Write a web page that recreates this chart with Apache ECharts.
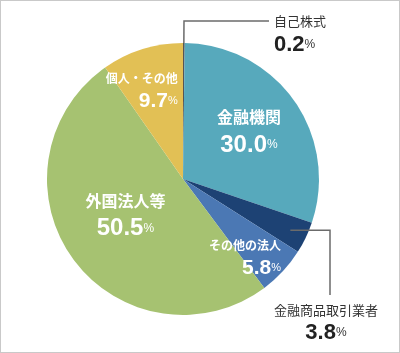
<!DOCTYPE html>
<html>
<head>
<meta charset="utf-8">
<script src="https://cdn.jsdelivr.net/npm/echarts@6/dist/echarts.min.js"></script>
<style>
html, body { margin: 0; padding: 0; background: #fff; }
#main { width: 400px; height: 353px; box-sizing: border-box; border: 1px solid #c9c9c9; }
</style>
</head>
<body>
<div id="main"></div>
<script>
// 株主構成 (%), clockwise from 12 o'clock
const names = ['自己株式', '金融機関', '金融商品取引業者', 'その他の法人', '外国法人等', '個人・その他'];
const shares = [0.2, 30.0, 3.8, 5.8, 50.5, 9.7];

const colors = ['#555555', '#57a9bc', '#1d4274', '#4b78b4', '#a6c271', '#e2c055'];
// label look per slice: dark = outside, big/small = white inside
const labelKind = ['dark', 'big', 'dark', 'small', 'big', 'small'];
const labelOffset = [null, [8, -4], null, [10, 32], [0, -3], [-20, -19]];

const CX = 182, CY = 178, R = 136;
const FONT = "'Liberation Sans','Noto Sans CJK JP',sans-serif";

const chart = echarts.init(document.getElementById('main'), null, { renderer: 'canvas' });

function fmt(kind, name, v) {
    const val = v.toFixed(1);
    if (kind === 'big') return '{nB|' + name + '}\n{vB|' + val + '}{pB|%}';
    if (kind === 'small') return '{nS|' + name + '}\n{vS|' + val + '}{pS|%}';
    return '{nD|' + name + '}\n{vD|' + val + '}{pD|%}';
}

const seriesData = names.map(function (n, i) {
    const kind = labelKind[i];
    const item = {
        name: n,
        value: shares[i],
        itemStyle: { color: colors[i] },
        label: {
            position: kind === 'dark' ? 'outside' : 'inside',
            formatter: fmt(kind, n, shares[i])
        }
    };
    if (labelOffset[i]) item.label.offset = labelOffset[i];
    if (i === 0) item.label.padding = [31, 0, 0, 0];
    if (i === 2) item.labelLine = { show: false };
    return item;
});

// mid angle of 金融商品取引業者 for its leader line
const total = shares.reduce(function (a, b) { return a + b; }, 0);
const before = shares[0] + shares[1];
const midDeg = (before + shares[2] / 2) / total * 360;
const dx = Math.sin(midDeg * Math.PI / 180), dy = -Math.cos(midDeg * Math.PI / 180);
const p0 = [CX + 0.875 * R * dx, CY + 0.875 * R * dy];
const lineX = CX + 147;
const leader = [p0, [lineX, p0[1]], [lineX, CY + 116]];

chart.setOption({
    animation: false,
    graphic: [{
        type: 'polyline',
        z: 100,
        shape: { points: leader },
        style: { stroke: '#6b6b6b', lineWidth: 1.5, fill: null }
    }],
    series: [{
        type: 'pie',
        center: [CX, CY],
        radius: [0, R],
        startAngle: 90,
        clockwise: true,
        avoidLabelOverlap: false,
        itemStyle: { borderWidth: 0 },
        emphasis: { disabled: true },
        labelLine: {
            show: true,
            length: 22,
            length2: 85,
            smooth: false,
            lineStyle: { color: '#6b6b6b', width: 1.5 }
        },
        label: {
            show: true,
            fontFamily: FONT,
            rich: {
                nB: { fontFamily: FONT, fontSize: 16, fontWeight: 'bold', color: '#fff', lineHeight: 22 },
                vB: { fontFamily: FONT, fontSize: 24, fontWeight: 'bold', color: '#fff', lineHeight: 30 },
                pB: { fontFamily: FONT, fontSize: 12, color: '#fff', lineHeight: 30 },
                nS: { fontFamily: FONT, fontSize: 12, fontWeight: 'bold', color: '#fff', lineHeight: 18, align: 'right' },
                vS: { fontFamily: FONT, fontSize: 21, fontWeight: 'bold', color: '#fff', lineHeight: 26, align: 'right' },
                pS: { fontFamily: FONT, fontSize: 11, color: '#fff', lineHeight: 26, align: 'right' },
                nD: { fontFamily: FONT, fontSize: 13, color: '#333', lineHeight: 16 },
                vD: { fontFamily: FONT, fontSize: 22, fontWeight: 'bold', color: '#222', lineHeight: 28 },
                pD: { fontFamily: FONT, fontSize: 12, color: '#333', lineHeight: 28 }
            }
        },
        labelLayout: function (p) {
            if (p.dataIndex !== 2) return {};
            return { x: CX + 143, y: CY + 124, align: 'center', verticalAlign: 'top' };
        },
        data: seriesData
    }]
});
</script>
</body>
</html>
